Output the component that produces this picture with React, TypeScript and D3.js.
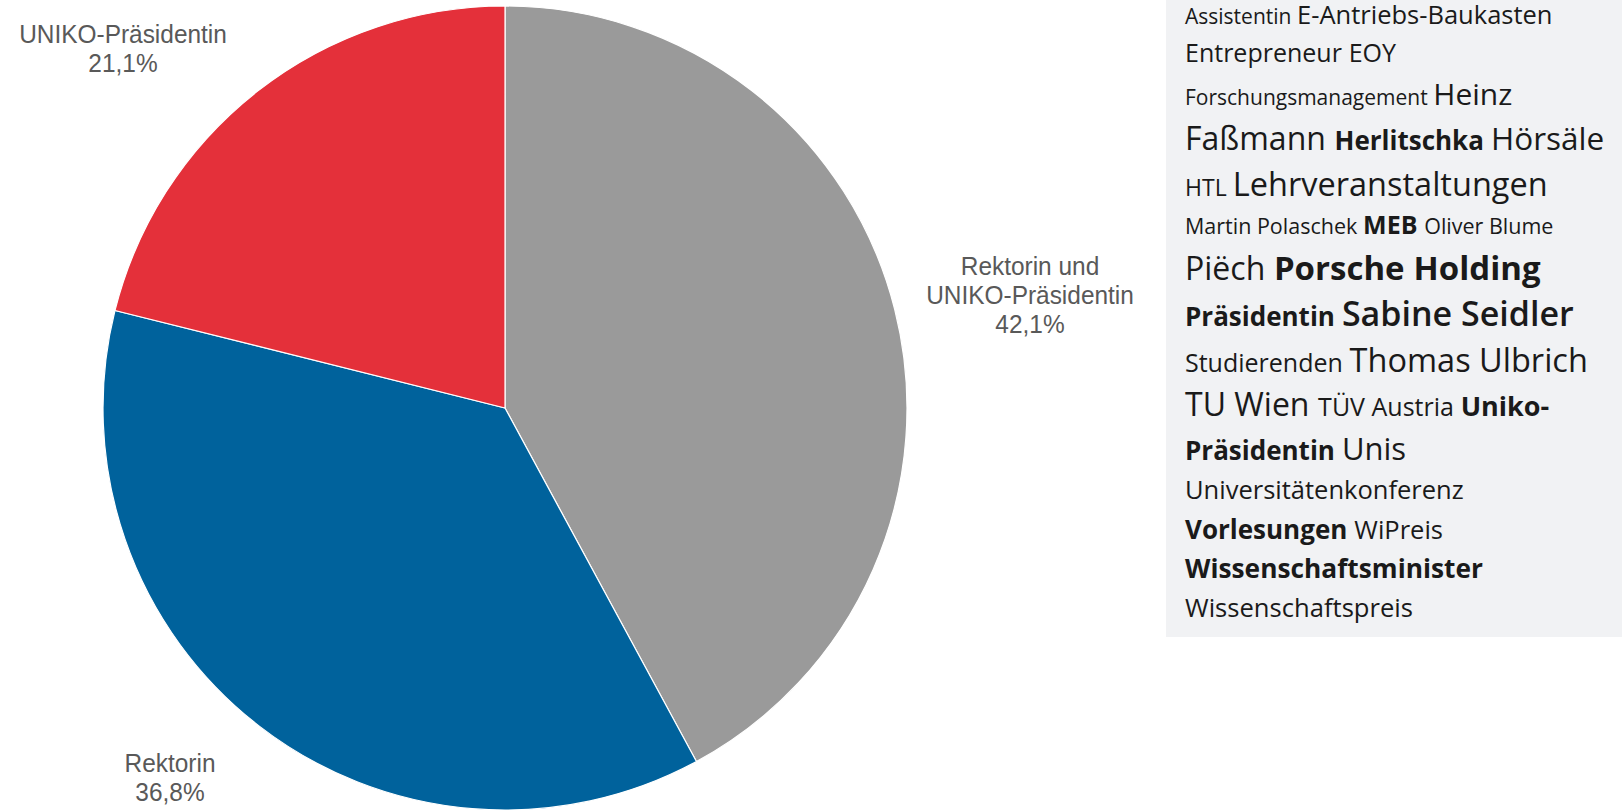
import React, { useEffect, useRef } from "react";
import * as d3 from "d3";

// ---- data ----
const categories = ["Rektorin und UNIKO-Präsidentin", "Rektorin", "UNIKO-Präsidentin"];
const labelLines = [["Rektorin und", "UNIKO-Präsidentin"], ["Rektorin"], ["UNIKO-Präsidentin"]];
const shares = [42.1, 36.8, 21.1];
const sliceColors = ["#9a9a9a", "#00629c", "#e4303a"];

// word cloud: [word, size, weight class]
const cloudLine1 = [["Assistentin", 21, 0], ["E-Antriebs-Baukasten", 25.5, 0]];
const cloudLine2 = [["Entrepreneur", 25, 0], ["EOY", 25, 0]];
const cloudLine3 = [["Forschungsmanagement", 21, 0], ["Heinz", 30, 0]];
const cloudLine4 = [["Faßmann", 32, 0], ["Herlitschka", 26, 1], ["Hörsäle", 31.5, 0]];
const cloudLine5 = [["HTL", 23, 0], ["Lehrveranstaltungen", 32.5, 0]];
const cloudLine6 = [["Martin Polaschek", 21.5, 0], ["MEB", 25, 1], ["Oliver Blume", 21.5, 0]];
const cloudLine7 = [["Piëch", 32, 0], ["Porsche", 33, 1], ["Holding", 33, 1]];
const cloudLine8 = [["Präsidentin", 26, 1], ["Sabine Seidler", 34, 2]];
const cloudLine9 = [["Studierenden", 25, 0], ["Thomas Ulbrich", 32.5, 0]];
const cloudLine10 = [["TU Wien", 32, 0], ["TÜV Austria", 25, 0], ["Uniko-", 27, 1]];
const cloudLine11 = [["Präsidentin", 26, 1], ["Unis", 31, 0]];
const cloudLine12 = [["Universitätenkonferenz", 25.5, 0]];
const cloudLine13 = [["Vorlesungen", 26, 1], ["WiPreis", 25.5, 0]];
const cloudLine14 = [["Wissenschaftsminister", 26.3, 1]];
const cloudLine15 = [["Wissenschaftspreis", 25.6, 0]];
const cloudLines = [
  cloudLine1, cloudLine2, cloudLine3, cloudLine4, cloudLine5, cloudLine6, cloudLine7, cloudLine8,
  cloudLine9, cloudLine10, cloudLine11, cloudLine12, cloudLine13, cloudLine14, cloudLine15,
];

// ---- layout ----
const W = 1622;
const H = 811;
const PIE = { cx: 505, cy: 408, r: 402 };
const LABEL_ANCHORS = [
  { x: 1030, y: 275 },
  { x: 170, y: 772 },
  { x: 123, y: 43 },
];
const PANEL = { x: 1166, y: 0, w: 456, h: 637, textX: 1185 };

export default function App() {
  const ref = useRef<SVGSVGElement | null>(null);

  useEffect(() => {
    document.body.style.margin = "0";
    const svg = d3.select(ref.current);
    svg.selectAll("*").remove();

    svg.append("rect").attr("width", W).attr("height", H).attr("fill", "#ffffff");

    // pie
    const pie = d3.pie<number>().sort(null).value((d) => d)(shares);
    const arc = d3.arc<d3.PieArcDatum<number>>().innerRadius(0).outerRadius(PIE.r);
    const g = svg.append("g").attr("transform", `translate(${PIE.cx},${PIE.cy})`);
    g.selectAll("path")
      .data(pie)
      .join("path")
      .attr("d", arc as any)
      .attr("fill", (_d, i) => sliceColors[i])
      .attr("stroke", "#ffffff")
      .attr("stroke-width", 1.2)
      .attr("stroke-linejoin", "round");

    // labels
    const fmt = (v: number) => v.toFixed(1).replace(".", ",") + "%";
    categories.forEach((_c, i) => {
      const a = LABEL_ANCHORS[i];
      const t = svg
        .append("g")
        .attr("transform", `translate(${a.x},${a.y}) scale(0.94,1)`)
        .append("text")
        .attr("x", 0)
        .attr("y", 0)
        .attr("text-anchor", "middle")
        .attr("font-family", "'Liberation Sans', Arial, sans-serif")
        .attr("font-size", 26)
        .attr("fill", "#595959");
      const lines = [...labelLines[i], fmt(shares[i])];
      lines.forEach((ln, j) => {
        t.append("tspan").attr("x", 0).attr("dy", j === 0 ? 0 : 29).text(ln);
      });
    });

    // word cloud panel
    svg
      .append("rect")
      .attr("x", PANEL.x)
      .attr("y", PANEL.y)
      .attr("width", PANEL.w)
      .attr("height", PANEL.h)
      .attr("fill", "#f1f2f4");

    const cg = svg.append("g");
    let baseline = 0;
    cloudLines.forEach((line, li) => {
      const maxSize = d3.max(line, (w) => w[1] as number) as number;
      baseline = li === 0 ? maxSize * 0.94 : baseline + 0.9 * maxSize + 16;
      let x = PANEL.textX;
      line.forEach((w) => {
        const [word, size, bold] = w as [string, number, number];
        const t = cg
          .append("text")
          .attr("x", x)
          .attr("y", baseline)
          .attr("font-family", "'Open Sans', 'Noto Sans', sans-serif")
          .attr("font-size", size)
          .attr("font-weight", bold === 1 ? 700 : bold === 2 ? 600 : 400)
          .attr("fill", "#1a1a1a")
          .text(word);
        const len = (t.node() as SVGTextElement).getComputedTextLength();
        x += len + size * 0.27;
      });
    });
  }, []);

  return (
    <svg
      ref={ref}
      width={W}
      height={H}
      style={{ position: "absolute", left: 0, top: 0, display: "block" }}
    />
  );
}
